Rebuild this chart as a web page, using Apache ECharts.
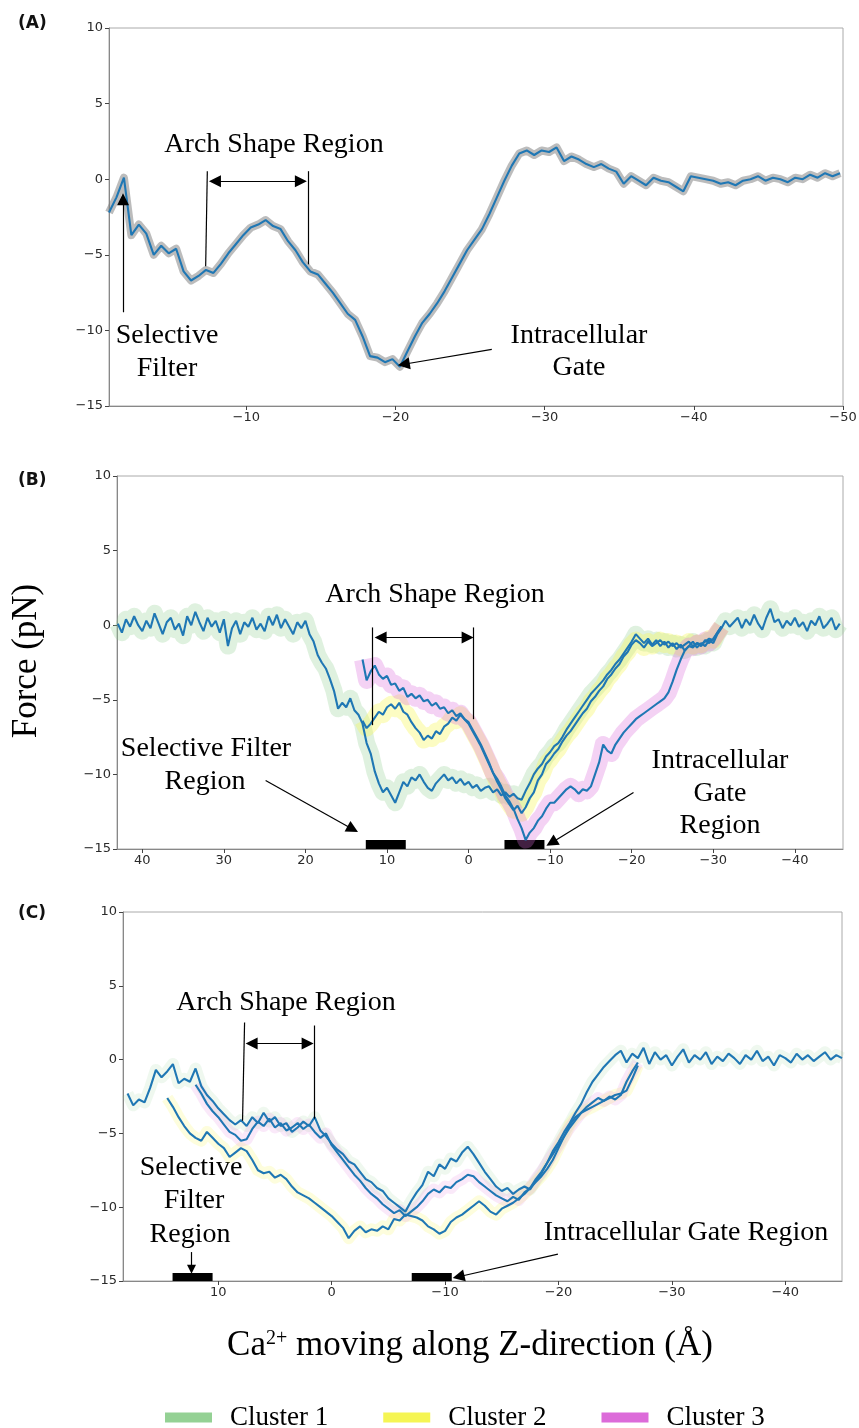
<!DOCTYPE html>
<html>
<head>
<meta charset="utf-8">
<script src="https://cdn.jsdelivr.net/npm/echarts@6/dist/echarts.min.js"></script>
<style>
html,body{margin:0;padding:0;background:#fff}
#main{width:859px;height:1428px}
</style>
</head>
<body>
<div id="main"></div>
<script>
// sampling step along z (A), every series starts at its own z
var STEP = -0.5;

// (A) single trajectory
var zStartA = -0.8;
var forceA = [-2.2,-1.2,0.1,-3.7,-3.0,-3.6,-5.0,-4.4,-4.9,-4.6,
  -6.1,-6.7,-6.4,-6.0,-6.2,-5.6,-4.9,-4.3,-3.7,-3.2,
  -3.0,-2.7,-3.1,-3.3,-4.1,-4.7,-5.5,-6.1,-6.3,-6.9,
  -7.5,-8.2,-8.9,-9.3,-10.4,-11.7,-11.8,-12.1,-11.9,-12.4,
  -11.4,-10.4,-9.5,-8.9,-8.2,-7.4,-6.5,-5.6,-4.7,-4.0,
  -3.3,-2.3,-1.2,-0.1,0.9,1.7,1.9,1.6,1.9,1.8,
  2.1,1.2,1.5,1.3,1.0,0.8,1.0,0.7,0.5,-0.3,
  0.2,-0.1,-0.4,0.1,-0.1,-0.2,-0.5,-0.8,0.2,0.1,
  0.0,-0.1,-0.3,-0.2,-0.4,-0.1,0.0,0.2,-0.1,0.1,
  0.0,-0.2,0.1,0.0,0.3,0.1,0.4,0.2,0.4];

// (B) three clusters
var zStartB1 = 43.0;
var forceB1 = [0.1,-0.5,0.4,-0.1,0.6,0.0,-0.4,0.3,-0.2,0.8,
  0.1,-0.6,0.2,0.5,-0.3,0.1,-0.7,0.6,0.0,0.9,
  0.2,-0.4,0.5,-0.1,0.3,-0.5,0.4,-1.4,-0.2,0.3,
  -0.6,0.2,-0.1,0.5,-0.3,0.1,-0.4,0.6,0.0,0.7,
  -0.2,0.4,-0.1,-0.6,0.2,-0.2,0.3,-0.6,-1.1,-2.0,
  -2.5,-2.9,-3.6,-4.4,-5.6,-5.2,-5.5,-4.9,-5.7,-6.0,
  -6.6,-7.9,-8.6,-9.8,-10.6,-11.2,-10.9,-11.4,-11.9,-11.2,
  -10.5,-10.8,-10.2,-10.4,-10.0,-10.5,-10.9,-11.1,-10.6,-10.3,
  -10.0,-10.4,-10.2,-10.6,-10.3,-10.7,-10.5,-10.9,-10.7,-11.1,
  -10.9,-10.8,-11.2,-11.0,-11.4,-11.2,-11.5,-11.3,-11.6,-11.7,
  -11.1,-10.6,-10.0,-9.6,-9.3,-8.8,-8.5,-8.1,-7.9,-7.5,
  -7.0,-6.6,-6.2,-5.8,-5.4,-5.0,-4.6,-4.3,-4.0,-3.7,
  -3.3,-3.0,-2.6,-2.3,-1.9,-1.5,-1.1,-0.6,-0.9,-1.2,
  -0.9,-1.3,-1.0,-1.4,-1.1,-1.5,-1.2,-1.6,-1.3,-1.7,
  -1.4,-1.1,-1.5,-1.2,-1.4,-1.0,-1.2,-0.6,-0.2,0.3,
  -0.1,0.2,0.5,-0.2,0.4,0.0,0.7,0.1,-0.3,0.5,
  1.1,0.2,0.4,-0.2,0.3,0.0,0.5,-0.1,0.2,-0.4,
  0.3,0.0,0.6,-0.2,0.1,0.5,-0.3,0.1];
var zStartB2 = 13.0;
var forceB2 = [-6.4,-6.9,-6.6,-6.2,-5.8,-6.0,-5.5,-5.3,-5.6,-5.2,
  -5.8,-6.0,-6.5,-6.9,-7.2,-7.7,-7.4,-7.6,-7.1,-7.3,
  -6.8,-6.6,-6.2,-6.4,-6.0,-6.3,-6.6,-7.1,-7.6,-8.1,
  -8.7,-9.3,-9.9,-10.5,-11.0,-11.6,-12.0,-12.4,-12.1,-12.6,
  -12.2,-11.6,-11.2,-10.4,-10.0,-9.3,-9.0,-8.6,-8.3,-7.8,
  -7.4,-7.1,-6.7,-6.3,-5.9,-5.6,-5.1,-4.8,-4.4,-4.1,
  -3.6,-3.3,-2.9,-2.6,-2.1,-1.8,-1.3,-1.0,-1.2,-1.5,
  -1.1,-1.4,-1.2,-1.0,-1.3,-1.1,-1.4,-1.2,-1.5,-1.3,
  -1.1,-1.4,-1.2,-1.3,-1.1,-0.9,-1.0,-0.5,-0.1];
var zStartB3 = 13.0;
var forceB3 = [-2.3,-3.7,-3.1,-2.7,-3.3,-3.6,-3.4,-4.0,-3.9,-4.4,
  -4.2,-4.8,-4.6,-4.9,-4.7,-5.1,-5.0,-5.4,-5.2,-5.6,
  -5.5,-5.9,-5.7,-6.1,-5.9,-6.3,-6.5,-7.0,-7.5,-8.0,
  -8.6,-9.2,-9.9,-10.3,-10.8,-11.4,-11.8,-12.3,-13.0,-13.6,
  -14.4,-13.9,-13.6,-13.1,-12.8,-12.3,-11.9,-11.9,-11.6,-11.3,
  -11.0,-10.8,-11.0,-11.3,-11.0,-11.1,-10.8,-10.0,-9.2,-8.0,
  -8.4,-8.6,-8.0,-7.6,-7.2,-6.9,-6.6,-6.3,-6.1,-5.9,
  -5.7,-5.5,-5.3,-5.1,-4.9,-4.5,-3.8,-3.0,-2.3,-1.7,
  -1.4,-1.5,-1.2,-1.4,-1.0,-1.2,-0.9,-0.5,-0.1];

// (C) three clusters
var zStartC1 = 18.0;
var forceC1 = [-2.3,-3.1,-2.7,-2.9,-1.9,-0.7,-1.2,-0.8,-0.3,-1.6,
  -1.3,-1.5,-0.6,-1.8,-2.4,-2.8,-3.3,-3.7,-4.1,-4.4,
  -4.1,-4.5,-3.9,-4.3,-3.6,-4.2,-3.9,-4.5,-4.3,-4.9,
  -4.6,-4.2,-4.5,-3.9,-4.8,-5.2,-5.7,-6.1,-6.4,-6.9,
  -7.1,-7.6,-8.1,-8.3,-8.7,-8.9,-9.4,-9.7,-10.0,-10.3,
  -9.6,-9.0,-8.5,-7.6,-7.9,-7.1,-7.4,-6.7,-6.9,-6.3,
  -5.9,-6.4,-7.0,-7.6,-8.1,-8.6,-8.9,-8.7,-9.1,-8.8,
  -8.6,-8.8,-8.2,-7.7,-7.0,-6.2,-5.6,-4.9,-4.3,-3.6,
  -3.0,-2.2,-1.5,-1.0,-0.5,-0.1,0.3,0.6,-0.2,0.4,
  0.1,0.8,-0.3,0.5,0.0,0.3,-0.4,0.2,0.7,-0.2,
  0.3,0.0,0.5,-0.3,0.2,-0.1,0.4,0.1,-0.3,0.3,
  0.0,0.6,-0.1,0.2,-0.4,0.3,0.1,-0.2,0.4,0.0,
  0.3,-0.1,0.2,0.5,0.0,0.3,0.1];
var zStartC2 = 14.5;
var forceC2 = [-2.6,-3.2,-3.9,-4.5,-5.0,-5.3,-5.5,-4.9,-5.3,-5.7,
  -6.0,-6.6,-6.3,-6.0,-6.2,-6.8,-7.5,-7.7,-7.6,-8.0,
  -7.8,-8.1,-8.6,-9.0,-9.2,-9.4,-9.7,-10.0,-10.3,-10.6,
  -11.0,-11.4,-12.1,-11.6,-11.3,-11.7,-11.5,-11.6,-11.3,-11.5,
  -10.8,-10.9,-10.5,-10.6,-10.7,-10.9,-11.3,-11.5,-11.8,-11.6,
  -11.0,-10.7,-10.5,-10.2,-9.9,-9.6,-9.9,-10.3,-10.5,-10.1,
  -9.9,-9.7,-9.4,-9.1,-8.7,-8.3,-7.9,-7.4,-6.8,-6.0,
  -5.2,-4.4,-3.9,-3.6,-3.4,-3.2,-3.0,-2.8,-2.6,-2.4,
  -2.3,-2.1,-1.3,-0.4];
var zStartC3 = 12.0;
var forceC3 = [-1.7,-2.3,-3.0,-3.5,-3.9,-4.4,-4.9,-5.1,-5.5,-5.4,
  -4.7,-4.2,-4.5,-4.0,-4.6,-4.3,-4.8,-4.6,-4.3,-4.7,
  -4.4,-4.9,-5.3,-5.0,-5.8,-6.3,-6.8,-7.3,-7.8,-8.2,
  -8.7,-9.1,-9.4,-9.8,-10.1,-10.4,-10.2,-10.6,-10.3,-10.0,
  -9.6,-9.1,-8.8,-9.0,-8.6,-8.7,-8.3,-8.1,-7.8,-7.9,
  -8.3,-8.6,-8.9,-9.2,-9.4,-9.6,-9.3,-9.5,-9.0,-8.7,
  -8.1,-7.6,-7.0,-6.4,-5.8,-5.2,-4.6,-4.1,-3.6,-3.2,
  -2.9,-2.6,-2.8,-2.5,-2.7,-2.4,-1.5,-0.8,-0.2];

// axis ticks
var ticksA = [-10, -20, -30, -40, -50];
var ticksB = [40, 30, 20, 10, 0, -10, -20, -30, -40];
var ticksC = [10, 0, -10, -20, -30, -40];

var clusters = ['Cluster 1', 'Cluster 2', 'Cluster 3'];
var clusterColors = ['#94d194', '#f5f553', '#dc6bd9'];

var serif = '"Liberation Serif", "Times New Roman", serif';
var sans = '"DejaVu Sans", sans-serif';
var blue = '#1f77b4';

function pairs(z0, vals) {
    var out = [];
    for (var i = 0; i < vals.length; i++) {
        out.push([Math.round((z0 + STEP * i) * 100) / 100, vals[i]]);
    }
    return out;
}
function minus(v) { return String(v).replace('-', '\u2212'); }

function xAx(i, min, max, ticks) {
    return {
        type: 'value', gridIndex: i, inverse: true, min: min, max: max,
        axisLine: {show: true, onZero: false, lineStyle: {color: '#888', width: 1}},
        axisTick: {show: true, length: 4, customValues: ticks, lineStyle: {color: '#444'}},
        axisLabel: {customValues: ticks, formatter: minus, fontFamily: sans, fontSize: 13, color: '#2a2a2a', margin: 5},
        splitLine: {show: false}
    };
}
function yAx(i) {
    return {
        type: 'value', gridIndex: i, min: -15, max: 10, interval: 5,
        axisLine: {show: true, onZero: false, lineStyle: {color: '#888', width: 1}},
        axisTick: {show: true, length: 4, lineStyle: {color: '#444'}},
        axisLabel: {formatter: minus, fontFamily: sans, fontSize: 13, color: '#2a2a2a', margin: 6},
        splitLine: {show: false}
    };
}
function band(name, i, data, color, width, opacity) {
    return {
        name: name, type: 'line', xAxisIndex: i, yAxisIndex: i, data: data,
        showSymbol: false, symbol: 'none', silent: true, z: 1,
        lineStyle: {color: color, width: width, opacity: opacity, join: 'round'},
        itemStyle: {color: color}
    };
}
function trace(name, i, data) {
    return {
        name: name, type: 'line', xAxisIndex: i, yAxisIndex: i, data: data,
        showSymbol: false, symbol: 'none', silent: true, z: 3,
        lineStyle: {color: blue, width: 2.1}
    };
}
// annotation helpers (data coordinates)
function seg(a, b) { return [{coord: a, symbol: 'none'}, {coord: b, symbol: 'none'}]; }
function arrow(a, b, s) { return [{coord: a, symbol: 'none'}, {coord: b, symbol: 'triangle', symbolSize: s || 12}]; }
function both(a, b) { return [{coord: a, symbol: 'triangle', symbolSize: 12}, {coord: b, symbol: 'triangle', symbolSize: 12}]; }
function marks(list) {
    return {
        silent: true, animation: false, label: {show: false}, emphasis: {disabled: true},
        lineStyle: {color: '#000', width: 1.2, type: 'solid'}, data: list
    };
}
function bars(list) {
    return {
        silent: true, animation: false, label: {show: false}, emphasis: {disabled: true},
        itemStyle: {color: '#000', opacity: 1}, data: list
    };
}
function txt(s, x, y, size) {
    return {type: 'text', x: x, y: y, silent: true,
        style: {text: s, fill: '#000', fontSize: size || 28, fontFamily: serif, align: 'center', verticalAlign: 'middle'}};
}
function tag(s, y) {
    return {type: 'text', x: 18, y: y, silent: true,
        style: {text: s, fill: '#111', fontSize: 17, fontWeight: 'bold', fontFamily: sans, align: 'left', verticalAlign: 'middle'}};
}

var dA = pairs(zStartA, forceA);
var dB1 = pairs(zStartB1, forceB1), dB2 = pairs(zStartB2, forceB2), dB3 = pairs(zStartB3, forceB3);
var dC1 = pairs(zStartC1, forceC1), dC2 = pairs(zStartC2, forceC2), dC3 = pairs(zStartC3, forceC3);

var traceA = trace('A', 0, dA);
traceA.markLine = marks([
    seg([-7.39, 0.53], [-7.28, -5.76]),
    seg([-14.13, 0.53], [-14.13, -5.63]),
    both([-7.9, -0.13], [-13.66, -0.13]),
    arrow([-1.74, -8.8], [-1.74, -1.32]),
    arrow([-26.46, -11.26], [-20.56, -12.24])
]);

var traceB1 = trace('B1', 1, dB1);
traceB1.markLine = marks([
    seg([11.76, -0.15], [11.76, -6.7]),
    seg([-0.61, -0.15], [-0.61, -6.3]),
    both([10.78, -0.82], [0.12, -0.82]),
    arrow([24.88, -10.41], [14.2, -13.67]),
    arrow([-20.22, -11.21], [-10.17, -14.58])
]);
traceB1.markArea = bars([
    [{coord: [12.6, -15]}, {coord: [7.7, -14.4]}],
    [{coord: [-4.4, -15]}, {coord: [-9.3, -14.4]}]
]);

var traceC1 = trace('C1', 2, dC1);
traceC1.markLine = marks([
    seg([7.68, 2.51], [7.86, -4.14]),
    seg([1.5, 2.31], [1.5, -4.0]),
    both([7.06, 1.09], [2.12, 1.09]),
    arrow([12.36, -13.04], [12.36, -14.2], 9),
    arrow([-19.95, -13.18], [-11.19, -14.71])
]);
traceC1.markArea = bars([
    [{coord: [14.03, -15]}, {coord: [10.5, -14.45]}],
    [{coord: [-7.06, -15]}, {coord: [-10.59, -14.45]}]
]);

var option = {
    backgroundColor: '#fff',
    animation: false,
    grid: [
        {left: 109, top: 28, width: 734, height: 378},
        {left: 117, top: 476, width: 726, height: 373},
        {left: 123, top: 912, width: 719, height: 369}
    ].map(function (g) {
        g.show = true; g.borderColor = '#aaa'; g.borderWidth = 1;
        g.backgroundColor = 'transparent'; g.containLabel = false; g.outerBoundsMode = 'none';
        return g;
    }),
    xAxis: [xAx(0, -50, -0.8, ticksA), xAx(1, -45.9, 43.1, ticksB), xAx(2, -45.0, 18.4, ticksC)],
    yAxis: [yAx(0), yAx(1), yAx(2)],
    legend: {
        data: clusters.map(function (n, k) {
            return {name: n, icon: 'rect', itemStyle: {color: clusterColors[k], opacity: 1}};
        }),
        left: 165, top: 1404, orient: 'horizontal', padding: 0,
        itemWidth: 47, itemHeight: 10, itemGap: 55, selectedMode: false,
        textStyle: {fontFamily: serif, fontSize: 27, color: '#000', padding: [0, 0, 0, 13]}
    },
    graphic: [
        tag('(A)', 24), tag('(B)', 481), tag('(C)', 914),
        {type: 'text', x: 27, y: 661, rotation: Math.PI / 2, silent: true,
            style: {text: 'Force (pN)', fill: '#000', fontSize: 35, fontFamily: serif, align: 'center', verticalAlign: 'middle'}},
        {type: 'text', x: 470, y: 1346, silent: true,
            style: {text: '{m|Ca}{s|2+}{m| moving along Z-direction (Å)}', align: 'center', verticalAlign: 'middle',
                rich: {
                    m: {fontSize: 35, fontFamily: serif, fill: '#000'},
                    s: {fontSize: 20, fontFamily: serif, fill: '#000', verticalAlign: 'top'}
                }}},
        txt('Arch Shape Region', 274, 145), txt('Selective', 167, 336), txt('Filter', 167, 369),
        txt('Intracellular', 579, 336), txt('Gate', 579, 368),
        txt('Arch Shape Region', 435, 595), txt('Selective Filter', 206, 749), txt('Region', 205, 782),
        txt('Intracellular', 720, 761), txt('Gate', 720, 794), txt('Region', 720, 826),
        txt('Arch Shape Region', 286, 1003), txt('Selective', 191, 1168), txt('Filter', 194, 1201),
        txt('Region', 190, 1235), txt('Intracellular Gate Region', 686, 1233)
    ],
    series: [
        band('SD', 0, dA, '#7a7a7a', 8, 0.5),
        band(clusters[0], 1, dB1, clusterColors[0], 17, 0.3),
        band(clusters[1], 1, dB2, clusterColors[1], 17, 0.35),
        band(clusters[2], 1, dB3, clusterColors[2], 17, 0.3),
        band(clusters[0], 2, dC1, clusterColors[0], 12, 0.15),
        band(clusters[1], 2, dC2, clusterColors[1], 12, 0.2),
        band(clusters[2], 2, dC3, clusterColors[2], 12, 0.15),
        traceA,
        traceB1, trace('B2', 1, dB2), trace('B3', 1, dB3),
        traceC1, trace('C2', 2, dC2), trace('C3', 2, dC3)
    ]
};

var myChart = echarts.init(document.getElementById('main'), null, {renderer: 'canvas'});
myChart.setOption(option);
</script>
</body>
</html>
